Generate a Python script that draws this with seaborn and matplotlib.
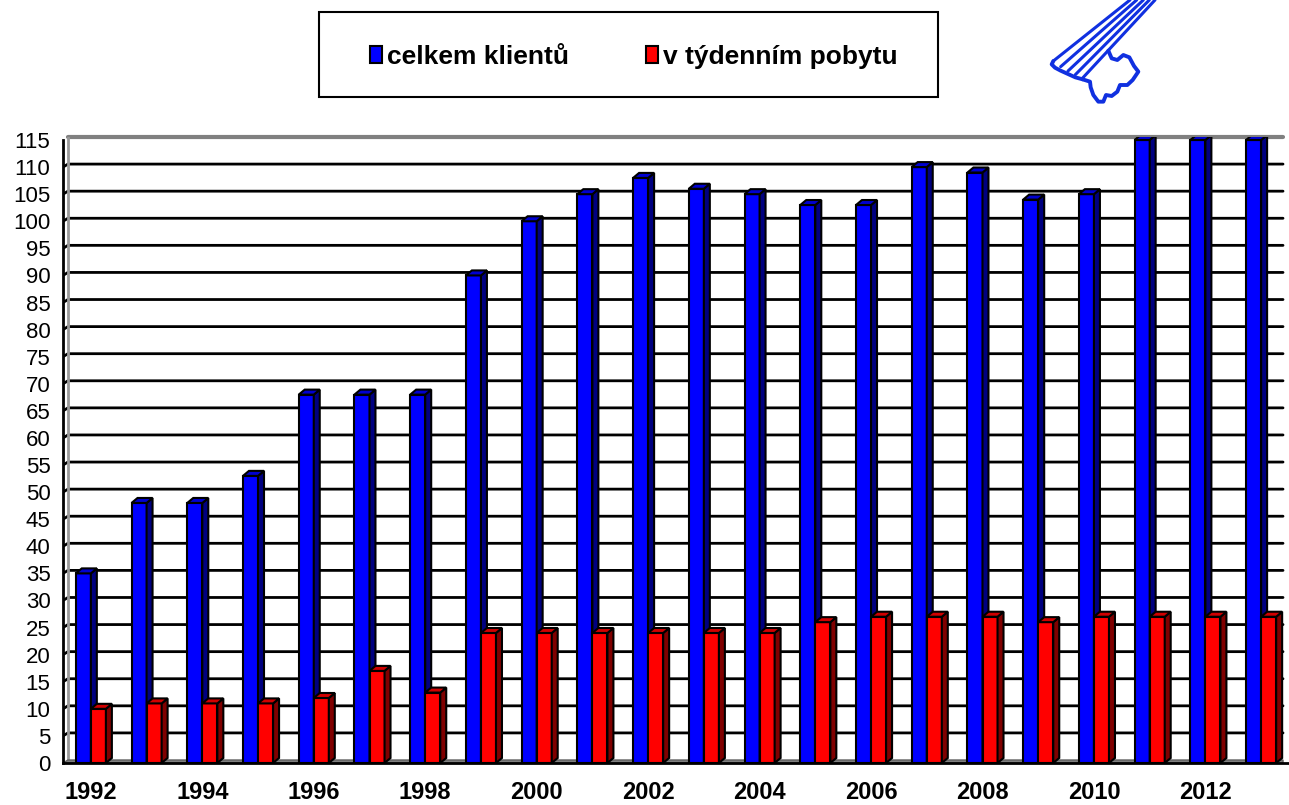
import matplotlib

matplotlib.use("Agg")
import matplotlib.pyplot as plt
import pandas as pd
import seaborn as sns
from matplotlib.lines import Line2D
from matplotlib.patches import Patch, Polygon, Rectangle

YEARS = list(range(1992, 2014))
CELKEM = [35, 48, 48, 53, 68, 68, 68, 90, 100, 105, 108, 106, 105, 103, 103, 110, 109, 104, 105, 115, 115, 115]
TYDENNI = [10, 11, 11, 11, 12, 17, 13, 24, 24, 24, 24, 24, 24, 26, 27, 27, 27, 26, 27, 27, 27, 27]
SERIES = ["celkem klientů", "v týdenním pobytu"]
YTICKS = list(range(0, 116, 5))
XLABEL_YEARS = YEARS[::2]

FRONT = ["#0000ff", "#ff0000"]
SIDE = ["#000080", "#800000"]
TOP = ["#0000d0", "#d00000"]
KEY_BLUE = "#1030e0"

W, H = 1289, 805
AX_LEFT, AX_BOTTOM, AX_W, AX_H = 63, 42, 1226, 626  # pixels
CAT_PX = 56
BAR_DX, BAR_DY = 6, 5    # 3d depth of the bars, px
WALL_DX, WALL_DY = 5, 3  # depth of the back wall, px

sns.set_style("white")
plt.rcParams["font.family"] = ["Liberation Sans", "DejaVu Sans"]
plt.rcParams["text.color"] = "black"
plt.rcParams["xtick.color"] = "black"
plt.rcParams["ytick.color"] = "black"

df = pd.DataFrame({
    "rok": [str(y) for y in YEARS] * 2,
    "pocet": CELKEM + TYDENNI,
    "serie": [SERIES[0]] * len(YEARS) + [SERIES[1]] * len(YEARS),
})

fig = plt.figure(figsize=(W / 100, H / 100), dpi=100)
ax = fig.add_axes([AX_LEFT / W, AX_BOTTOM / H, AX_W / W, AX_H / H])

sns.barplot(data=df, x="rok", y="pocet", hue="serie", order=[str(y) for y in YEARS],
            hue_order=SERIES, palette=FRONT, saturation=1, width=0.54,
            edgecolor="black", linewidth=1.5, legend=False, ax=ax)

xmin, xmax = -0.5, -0.5 + AX_W / CAT_PX
ymax = YTICKS[-1] / (1 - WALL_DY / AX_H)
ax.set_xlim(xmin, xmax)
ax.set_ylim(0, ymax)

# pixel -> data units
sx = (xmax - xmin) / AX_W
sy = ymax / AX_H
bdx, bdy = BAR_DX * sx, BAR_DY * sy
wdx, wdy = WALL_DX * sx, WALL_DY * sy

# 3d sides and tops of the bars
for ci, cont in enumerate(ax.containers):
    z = 3 + 2 * ci
    for bar in cont:
        bar.set_zorder(z)
        x0, w, h = bar.get_x(), bar.get_width(), bar.get_height()
        side = [(x0 + w, 0), (x0 + w + bdx, bdy), (x0 + w + bdx, h + bdy), (x0 + w, h)]
        top = [(x0, h), (x0 + bdx, h + bdy), (x0 + w + bdx, h + bdy), (x0 + w, h)]
        ax.add_patch(Polygon(side, closed=True, facecolor=SIDE[ci], edgecolor="black",
                             linewidth=1.5, zorder=z + 0.5))
        ax.add_patch(Polygon(top, closed=True, facecolor=TOP[ci], edgecolor="black",
                             linewidth=1.5, zorder=z + 0.5))

# back wall, floor and gridlines
ax.add_patch(Polygon([(xmin, 0), (xmin + wdx, wdy), (xmax, wdy), (xmax, 0)], closed=True,
                     facecolor="#808080", edgecolor="#606060", linewidth=1, zorder=1.5))
for v in YTICKS[1:-1]:
    ax.plot([xmin, xmin + wdx, xmax], [v, v + wdy, v + wdy], color="black", lw=2, zorder=1)
ax.plot([xmin + wdx, xmax], [YTICKS[-1] + wdy] * 2, color="#808080", lw=3, zorder=1,
        clip_on=False)
ax.plot([xmin + wdx, xmin + wdx], [wdy, YTICKS[-1] + wdy], color="#999999", lw=2, zorder=1.2)

# axes
for s in ["top", "right"]:
    ax.spines[s].set_visible(False)
for s in ["left", "bottom"]:
    ax.spines[s].set_color("black")
    ax.spines[s].set_linewidth(2)
    ax.spines[s].set_zorder(6)
ax.spines["left"].set_bounds(0, YTICKS[-1])

ax.set_yticks(YTICKS)
ax.set_yticklabels([str(v) for v in YTICKS], fontsize=16)
ax.tick_params(axis="y", direction="out", length=8, width=1.5, pad=1, color="black")

ax.set_xticks([xmin + i for i in range(len(YEARS) + 1)])
ax.set_xticklabels([])
ax.set_xticks([YEARS.index(y) for y in XLABEL_YEARS], minor=True)
ax.set_xticklabels([str(y) for y in XLABEL_YEARS], minor=True, fontsize=17, fontweight="bold")
ax.tick_params(axis="x", which="major", direction="out", length=8.5, width=1.5, color="black")
ax.tick_params(axis="x", which="minor", length=0, pad=13)
ax.set_xlabel("")
ax.set_ylabel("")

# legend in its own box above the plot
handles = [Patch(facecolor=c, edgecolor="black", linewidth=1.5) for c in FRONT]
fig.legend(handles, SERIES, loc="center", bbox_to_anchor=(634 / W, 1 - 57 / H), ncol=2,
           frameon=False, prop=dict(weight="bold", size=19), handlelength=0.45,
           handleheight=0.6, handletextpad=0.2, columnspacing=2.9)
fig.add_artist(Rectangle((319 / W, 1 - 97 / H), 619 / W, 85 / H, fill=False,
                         edgecolor="black", linewidth=1.5, transform=fig.transFigure))


# key logo, top right (sketched in a 3x grid from its corner at x=1040)
def px(pts):
    return [(1040 + x / 3) / W for x, _ in pts], [1 - (y / 3) / H for _, y in pts]


starts = [(40, 183), (62, 200), (84, 213), (106, 224), (128, 234)]
ends = [270, 290, 310, 328, 345]
for (zx, zy), ex in zip(starts, ends):
    xs, ys = px([(zx, zy), (ex, 0)])
    fig.add_artist(Line2D(xs, ys, color=KEY_BLUE, lw=2.2, transform=fig.transFigure,
                          solid_capstyle="round"))
cap = [(40, 183), (35, 193), (45, 203), (62, 212), (84, 222), (106, 232), (128, 238)]
bit = [(128, 238), (150, 245), (152, 262), (160, 285), (175, 305), (190, 305), (198, 285),
       (215, 288), (232, 275), (240, 255), (262, 255), (278, 240), (295, 215), (282, 198),
       (268, 172), (250, 165), (232, 180), (215, 175), (205, 152)]
for shape in [cap, bit]:
    xs, ys = px(shape)
    fig.add_artist(Line2D(xs, ys, color=KEY_BLUE, lw=2.8, transform=fig.transFigure,
                          solid_joinstyle="round", solid_capstyle="round"))

fig.savefig("out.png", dpi=100)
